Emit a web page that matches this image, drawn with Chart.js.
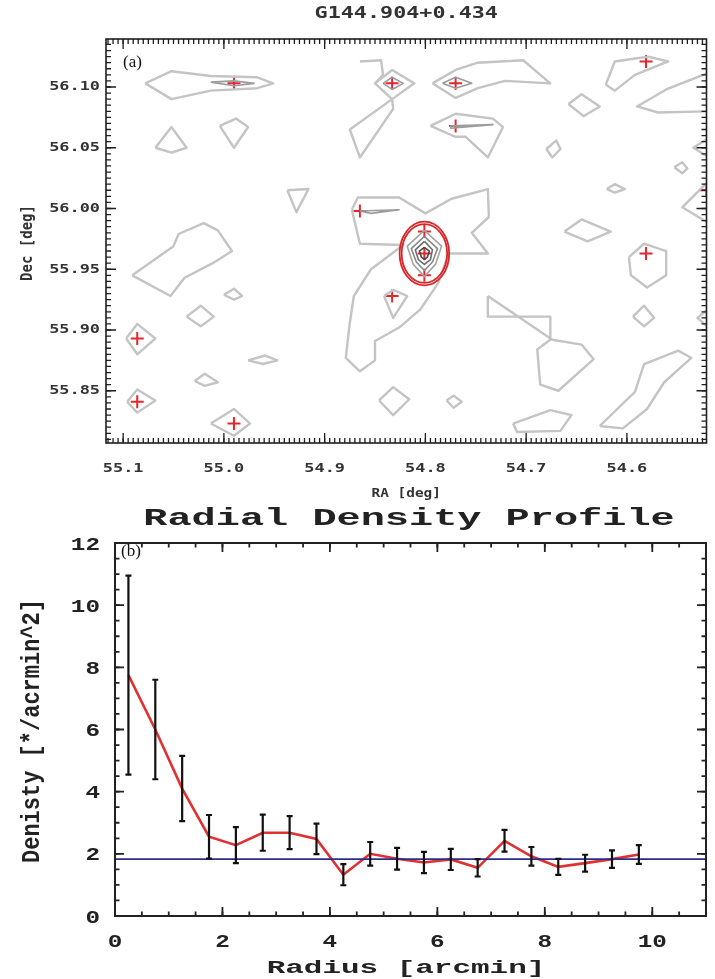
<!DOCTYPE html>
<html><head><meta charset="utf-8">
<script src="https://cdn.jsdelivr.net/npm/chart.js@4.4.1/dist/chart.umd.min.js"></script>
<style>
html,body{margin:0;padding:0;background:#fff;}
#wrap{position:relative;width:715px;height:979px;background:#fff;}
#ca{position:absolute;left:0;top:0;width:715px;height:505px;}
#cb{position:absolute;left:0;top:500px;width:715px;height:479px;}
</style></head><body><div id="wrap"><canvas id="ca" width="715" height="505"></canvas><canvas id="cb" width="715" height="479"></canvas></div>
<script>
// ---------- Panel (a) data ----------
const raRange = [54.521, 55.117];
const decRange = [55.807, 56.1395];
const raTicks = [55.1, 55.0, 54.9, 54.8, 54.7, 54.6];
const raTickLabels = ['55.1', '55.0', '54.9', '54.8', '54.7', '54.6'];
const decTicks = [56.10, 56.05, 56.00, 55.95, 55.90, 55.85];
const decTickLabels = ['56.10', '56.05', '56.00', '55.95', '55.90', '55.85'];

const crossRA  = [54.990, 54.833, 54.770, 54.581, 54.770, 54.865, 54.801, 54.801, 54.801, 54.833, 54.581, 54.521, 55.086, 55.086, 54.990];
const crossDec = [56.103, 56.103, 56.103, 56.121, 56.068, 55.998, 55.981, 55.963, 55.945, 55.928, 55.963, 56.015, 55.893, 55.841, 55.823];

const outerContours = [
  [[55.078,56.103],[55.052,56.113],[55.013,56.109],[54.967,56.108],[54.951,56.103],[54.967,56.099],[55.013,56.097],[55.052,56.090],[55.078,56.103]],
  [[55.068,56.050],[55.052,56.067],[55.037,56.050],[55.052,56.046],[55.068,56.050]],
  [[55.004,56.068],[54.988,56.074],[54.976,56.067],[54.990,56.050],[55.004,56.068]],
  [[54.865,56.121],[54.844,56.122],[54.842,56.110],[54.850,56.103],[54.833,56.114],[54.811,56.103],[54.833,56.090],[54.850,56.103]],
  [[54.833,56.090],[54.875,56.065],[54.865,56.042],[54.832,56.082],[54.833,56.090]],
  [[54.793,56.103],[54.770,56.114],[54.748,56.120],[54.703,56.122],[54.676,56.103],[54.721,56.105],[54.748,56.099],[54.770,56.091],[54.793,56.103]],
  [[54.795,56.068],[54.770,56.078],[54.733,56.074],[54.723,56.067],[54.738,56.042],[54.760,56.059],[54.770,56.059],[54.795,56.068]],
  [[54.937,56.015],[54.916,56.016],[54.928,55.997],[54.937,56.015]],
  [[54.873,55.999],[54.867,56.009],[54.826,56.009],[54.800,55.996],[54.774,56.008],[54.738,56.016],[54.737,55.993],[54.754,55.980],[54.738,55.963],[54.777,55.963],[54.787,55.939],[54.805,55.917],[54.826,55.902],[54.850,55.891],[54.850,55.875],[54.865,55.866],[54.879,55.877],[54.875,55.906],[54.871,55.928],[54.854,55.950],[54.822,55.970],[54.865,55.971],[54.873,55.999]],
  [[54.841,55.928],[54.832,55.933],[54.818,55.928],[54.832,55.910],[54.841,55.928]],
  [[55.091,55.945],[55.050,55.969],[55.045,55.979],[55.020,55.988],[55.006,55.982],[54.992,55.965],[55.011,55.955],[55.039,55.943],[55.053,55.928],[55.091,55.945]],
  [[55.000,55.929],[54.990,55.934],[54.982,55.928],[54.990,55.925],[55.000,55.929]],
  [[55.037,55.911],[55.023,55.920],[55.010,55.911],[55.023,55.903],[55.037,55.911]],
  [[55.097,55.893],[55.086,55.905],[55.068,55.893],[55.086,55.880],[55.097,55.893]],
  [[54.976,55.875],[54.959,55.879],[54.947,55.875],[54.961,55.872],[54.976,55.875]],
  [[55.029,55.858],[55.019,55.864],[55.006,55.857],[55.019,55.854],[55.029,55.858]],
  [[55.096,55.841],[55.086,55.851],[55.068,55.842],[55.086,55.832],[55.096,55.841]],
  [[55.013,55.823],[54.990,55.835],[54.974,55.823],[54.990,55.813],[55.013,55.823]],
  [[54.846,55.842],[54.832,55.853],[54.816,55.843],[54.832,55.830],[54.846,55.842]],
  [[54.779,55.842],[54.772,55.846],[54.764,55.841],[54.772,55.836],[54.779,55.842]],
  [[54.738,55.928],[54.674,55.892],[54.645,55.888],[54.633,55.876],[54.668,55.850],[54.686,55.855],[54.689,55.884],[54.676,55.892],[54.676,55.911],[54.738,55.911],[54.738,55.928]],
  [[54.713,55.823],[54.676,55.834],[54.655,55.830],[54.666,55.817],[54.709,55.816],[54.713,55.823]],
  [[54.627,55.821],[54.592,55.849],[54.583,55.872],[54.549,55.883],[54.536,55.877],[54.563,55.857],[54.580,55.835],[54.604,55.819],[54.627,55.821]],
  [[54.598,55.960],[54.583,55.971],[54.561,55.965],[54.561,55.945],[54.580,55.935],[54.596,55.945],[54.598,55.960]],
  [[54.662,55.981],[54.645,55.991],[54.616,55.981],[54.639,55.973],[54.662,55.981]],
  [[54.594,55.911],[54.583,55.920],[54.573,55.910],[54.583,55.903],[54.594,55.911]],
  [[54.680,56.049],[54.670,56.056],[54.666,56.049],[54.674,56.042],[54.680,56.049]],
  [[54.658,56.086],[54.645,56.094],[54.627,56.084],[54.643,56.076],[54.658,56.086]],
  [[54.553,56.034],[54.545,56.038],[54.540,56.033],[54.545,56.029],[54.553,56.034]],
  [[54.620,56.016],[54.612,56.020],[54.602,56.016],[54.612,56.013],[54.620,56.016]],
  [[54.621,56.102],[54.612,56.121],[54.579,56.125],[54.559,56.121],[54.592,56.110],[54.612,56.097],[54.621,56.102]],
  [[54.515,56.113],[54.561,56.098],[54.590,56.084],[54.569,56.079],[54.515,56.080]],
  [[54.515,56.060],[54.534,56.050],[54.515,56.040]],
  [[54.515,56.026],[54.545,56.001],[54.515,55.986]],
  [[54.515,55.920],[54.530,55.910],[54.515,55.899]]
];
const innerContours = [
  [[55.013,56.104],[54.990,56.105],[54.970,56.103],[54.990,56.101],[55.013,56.104]],
  [[54.842,56.103],[54.833,56.108],[54.822,56.103],[54.833,56.098],[54.842,56.103]],
  [[54.783,56.103],[54.770,56.108],[54.754,56.103],[54.770,56.099],[54.783,56.103]],
  [[54.775,56.068],[54.733,56.069],[54.775,56.066],[54.775,56.068]],
  [[54.865,55.998],[54.826,55.999],[54.854,55.996],[54.865,55.998]]
];
const coreContours = [
  [[54.801,55.982],[54.784,55.969],[54.790,55.954],[54.801,55.944],[54.812,55.954],[54.818,55.969],[54.801,55.982]],
  [[54.801,55.977],[54.788,55.967],[54.793,55.956],[54.801,55.949],[54.809,55.956],[54.814,55.967],[54.801,55.977]],
  [[54.801,55.973],[54.793,55.966],[54.795,55.958],[54.801,55.954],[54.807,55.958],[54.810,55.966],[54.801,55.973]],
  [[54.801,55.968],[54.796,55.965],[54.798,55.960],[54.801,55.958],[54.804,55.960],[54.806,55.965],[54.801,55.968]]
];
const coreColors = ['#a4a4a4', '#8a8a8a', '#6c6c6c', '#4a4a4a'];
const clusterCenter = [54.801, 55.963];
const clusterRingRA = [0.0246, 0.0226];
const clusterRingDec = [0.0262, 0.0242];

// ---------- Panel (b) data ----------
const radiusRange = [0, 11];
const densityRange = [0, 12];
const radiusTicks = [0, 2, 4, 6, 8, 10];
const radiusTickLabels = ['0', '2', '4', '6', '8', '10'];
const densityTicks = [0, 2, 4, 6, 8, 10, 12];
const densityTickLabels = ['0', '2', '4', '6', '8', '10', '12'];
const radius = [0.25, 0.75, 1.25, 1.75, 2.25, 2.75, 3.25, 3.75, 4.25, 4.75, 5.25, 5.75, 6.25, 6.75, 7.25, 7.75, 8.25, 8.75, 9.25, 9.75];
const density = [7.75, 6.0, 4.1, 2.55, 2.28, 2.68, 2.68, 2.48, 1.33, 2.0, 1.84, 1.72, 1.82, 1.55, 2.42, 1.92, 1.58, 1.70, 1.83, 1.98];
const densityErr = [3.2, 1.6, 1.05, 0.7, 0.58, 0.58, 0.53, 0.49, 0.34, 0.38, 0.35, 0.34, 0.34, 0.28, 0.35, 0.30, 0.26, 0.27, 0.28, 0.30];
const backgroundDensity = 1.83;

// ---------- helpers ----------
function steps(min, max, step) {
  const out = [];
  const lo = Math.min(min, max), hi = Math.max(min, max);
  for (let k = Math.ceil(lo / step - 1e-6); k * step <= hi + 1e-9; k++) out.push(+(k * step).toFixed(6));
  return out;
}
function sText(ctx, text, x, y, o) {
  ctx.save();
  ctx.translate(x, y);
  if (o.rotate) ctx.rotate(-Math.PI / 2);
  ctx.scale(o.sx || 1, o.sy || 1);
  ctx.font = o.font;
  ctx.fillStyle = o.color || '#222';
  ctx.textAlign = o.align || 'center';
  ctx.textBaseline = 'middle';
  ctx.fillText(text, 0, 0);
  ctx.restore();
}
function frameAndTicks(chart, o) {
  const { ctx, chartArea: a } = chart;
  const x = chart.scales.x, y = chart.scales.y;
  ctx.save();
  ctx.strokeStyle = o.color;
  ctx.lineWidth = o.tickWidth;
  const drawX = (vals, len) => vals.forEach(v => {
    const px = x.getPixelForValue(v);
    if (px < a.left + 1 || px > a.right - 1) return;
    ctx.beginPath();
    ctx.moveTo(px, a.bottom); ctx.lineTo(px, a.bottom - len);
    ctx.moveTo(px, a.top); ctx.lineTo(px, a.top + len);
    ctx.stroke();
  });
  const drawY = (vals, len) => vals.forEach(v => {
    const py = y.getPixelForValue(v);
    if (py < a.top + 1 || py > a.bottom - 1) return;
    ctx.beginPath();
    ctx.moveTo(a.left, py); ctx.lineTo(a.left + len, py);
    ctx.moveTo(a.right, py); ctx.lineTo(a.right - len, py);
    ctx.stroke();
  });
  drawX(steps(x.min, x.max, o.xMinor), o.minorLen);
  drawX(o.xMajor, o.majorLen);
  drawY(steps(y.min, y.max, o.yMinor), o.minorLen);
  drawY(o.yMajor, o.majorLen);
  ctx.lineWidth = o.frameWidth;
  ctx.strokeRect(a.left, a.top, a.right - a.left, a.bottom - a.top);
  ctx.restore();
}

// ---------- Panel (a) ----------
const polyDs = (poly, color, width) => ({
  data: poly.map(p => ({ x: p[0], y: p[1] })),
  showLine: true, borderColor: color, borderWidth: width,
  pointRadius: 0, tension: 0, fill: false, borderJoinStyle: 'round'
});
const panelAPlugin = {
  id: 'panelA',
  afterDatasetsDraw(chart) {
    const { ctx } = chart;
    const x = chart.scales.x, y = chart.scales.y;
    const cx = x.getPixelForValue(clusterCenter[0]);
    const cy = y.getPixelForValue(clusterCenter[1]);
    ctx.save();
    ctx.strokeStyle = '#d9262b';
    ctx.lineWidth = 1.8;
    clusterRingRA.forEach((r, i) => {
      const rx = Math.abs(x.getPixelForValue(clusterCenter[0] + r) - cx);
      const ry = Math.abs(y.getPixelForValue(clusterCenter[1] + clusterRingDec[i]) - cy);
      ctx.beginPath();
      ctx.ellipse(cx, cy, rx, ry, 0, 0, Math.PI * 2);
      ctx.stroke();
    });
    ctx.restore();
  },
  afterDraw(chart) {
    const { ctx, chartArea: a } = chart;
    const x = chart.scales.x, y = chart.scales.y;
    frameAndTicks(chart, {
      color: '#1e1e1e', tickWidth: 1.3, frameWidth: 1.6,
      xMinor: 0.005, yMinor: 0.005, xMajor: raTicks, yMajor: decTicks,
      minorLen: 5, majorLen: 10
    });
    const tf = 'bold 13px "DejaVu Sans Mono"';
    raTicks.forEach((v, i) => sText(ctx, raTickLabels[i], x.getPixelForValue(v), a.bottom + 26, { font: tf, sx: 1.3, color: '#333' }));
    decTicks.forEach((v, i) => sText(ctx, decTickLabels[i], a.left - 6, y.getPixelForValue(v), { font: tf, sx: 1.3, align: 'right', color: '#333' }));
    sText(ctx, 'G144.904+0.434', (a.left + a.right) / 2, 14, { font: 'bold 15px "DejaVu Sans Mono"', sx: 1.45, color: '#333' });
    sText(ctx, 'RA [deg]', (a.left + a.right) / 2, 494, { font: 'bold 12px "DejaVu Sans Mono"', sx: 1.2, color: '#333' });
    sText(ctx, 'Dec [deg]', 28, (a.top + a.bottom) / 2 + 2, { font: 'bold 14px "DejaVu Sans Mono"', sy: 1.1, rotate: true, color: '#333' });
    sText(ctx, '(a)', a.left + 17, 63, { font: '17px "Liberation Serif"', align: 'left', color: '#111' });
  }
};
new Chart(document.getElementById('ca'), {
  type: 'scatter',
  data: {
    datasets: [
      ...outerContours.map(p => polyDs(p, '#c4c4c4', 2.4)),
      ...innerContours.map(p => polyDs(p, '#9c9c9c', 1.6)),
      ...coreContours.map((p, i) => polyDs(p, coreColors[i], 1.6)),
      {
        data: crossRA.map((r, i) => ({ x: r, y: crossDec[i] })),
        pointStyle: 'cross', pointRadius: 6.5, borderWidth: 2,
        borderColor: '#e5262b', backgroundColor: '#e5262b'
      }
    ]
  },
  options: {
    responsive: false, animation: false, events: [],
    layout: { padding: { left: 106, right: 5, top: 39, bottom: 62 } },
    plugins: { legend: { display: false }, tooltip: { enabled: false }, title: { display: false } },
    scales: {
      x: { type: 'linear', display: false, reverse: true, min: raRange[0], max: raRange[1] },
      y: { type: 'linear', display: false, min: decRange[0], max: decRange[1] }
    }
  },
  plugins: [panelAPlugin]
});

// ---------- Panel (b) ----------
const panelBPlugin = {
  id: 'panelB',
  afterDatasetsDraw(chart) {
    const { ctx } = chart;
    const x = chart.scales.x, y = chart.scales.y;
    ctx.save();
    ctx.strokeStyle = '#111';
    ctx.lineWidth = 2.2;
    radius.forEach((r, i) => {
      const px = x.getPixelForValue(r);
      const y1 = y.getPixelForValue(density[i] + densityErr[i]);
      const y2 = y.getPixelForValue(density[i] - densityErr[i]);
      ctx.beginPath();
      ctx.moveTo(px, y1); ctx.lineTo(px, y2);
      ctx.moveTo(px - 3, y1); ctx.lineTo(px + 3, y1);
      ctx.moveTo(px - 3, y2); ctx.lineTo(px + 3, y2);
      ctx.stroke();
    });
    ctx.restore();
  },
  afterDraw(chart) {
    const { ctx, chartArea: a } = chart;
    const x = chart.scales.x, y = chart.scales.y;
    frameAndTicks(chart, {
      color: '#222', tickWidth: 1.8, frameWidth: 2,
      xMinor: 0.5, yMinor: 0.5, xMajor: radiusTicks, yMajor: densityTicks,
      minorLen: 4.5, majorLen: 9
    });
    const tf = 'bold 18px "Liberation Mono"';
    radiusTicks.forEach((v, i) => sText(ctx, radiusTickLabels[i], x.getPixelForValue(v), 442, { font: tf, sx: 1.35, color: '#222' }));
    densityTicks.forEach((v, i) => sText(ctx, densityTickLabels[i], 100, y.getPixelForValue(v) + 2, { font: tf, sx: 1.35, align: 'right', color: '#222' }));
    sText(ctx, 'Radial Density Profile', 409, 19, { font: 'bold 23px "Liberation Mono"', sx: 1.75, color: '#222' });
    sText(ctx, 'Radius [arcmin]', 406, 468, { font: 'bold 18px "Liberation Mono"', sx: 1.72, color: '#222' });
    sText(ctx, 'Denisty [*/acrmin^2]', 33, 231, { font: 'bold 22px "Liberation Mono"', sy: 1.15, rotate: true, color: '#222' });
    sText(ctx, '(b)', a.left + 6, 52, { font: '17px "Liberation Serif"', align: 'left', color: '#111' });
  }
};
new Chart(document.getElementById('cb'), {
  type: 'scatter',
  data: {
    datasets: [
      {
        data: radiusRange.map(r => ({ x: r, y: backgroundDensity })),
        showLine: true, borderColor: '#2c2c8c', borderWidth: 1.6, pointRadius: 0
      },
      {
        data: radius.map((r, i) => ({ x: r, y: density[i] })),
        showLine: true, borderColor: '#e03030', borderWidth: 2.6, pointRadius: 0, tension: 0
      }
    ]
  },
  options: {
    responsive: false, animation: false, events: [],
    layout: { padding: { left: 115, right: 9, top: 43, bottom: 63 } },
    plugins: { legend: { display: false }, tooltip: { enabled: false }, title: { display: false } },
    scales: {
      x: { type: 'linear', display: false, min: radiusRange[0], max: radiusRange[1] },
      y: { type: 'linear', display: false, min: densityRange[0], max: densityRange[1] }
    }
  },
  plugins: [panelBPlugin]
});
</script>
</body></html>
